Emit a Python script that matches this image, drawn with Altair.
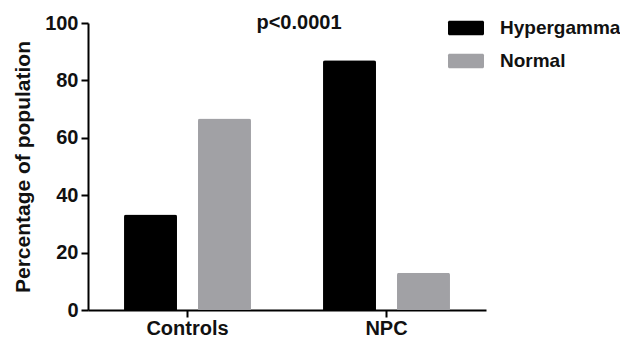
import altair as alt
import pandas as pd

groups = ["Controls", "Controls", "NPC", "NPC"]
series = ["Hypergamma", "Normal", "Hypergamma", "Normal"]
values = [33.3, 66.7, 87.0, 13.0]
series_order = ["Hypergamma", "Normal"]
series_colors = ["#000000", "#a1a1a5"]
y_ticks = [0, 20, 40, 60, 80, 100]
annotation = ["p<0.0001"]

df = pd.DataFrame({"group": groups, "series": series, "value": values})

FONT = "Liberation Sans"
TXT = "#111111"
legend_shape = ("M-1.1,-0.48 H1.1 A0.1,0.1 0 0 1 1.2,-0.38 V0.38 A0.1,0.1 0 0 1 1.1,0.48 "
                "H-1.1 A0.1,0.1 0 0 1 -1.2,0.38 V-0.38 A0.1,0.1 0 0 1 -1.1,-0.48 Z")

bars = alt.Chart(df).mark_bar(cornerRadiusTopLeft=2, cornerRadiusTopRight=2).encode(
    x=alt.X("group:N", sort=["Controls", "NPC"],
            scale=alt.Scale(paddingInner=0.362, paddingOuter=0.181),
            axis=alt.Axis(title=None, labelAngle=0, labelFont=FONT, labelFontSize=20,
                          labelFontWeight="bold", labelColor=TXT, labelPadding=1,
                          tickSize=7, tickWidth=2, tickColor="#000", domainWidth=2,
                          domainColor="#000")),
    xOffset=alt.XOffset("series:N", sort=series_order,
                        scale=alt.Scale(paddingInner=0.284, paddingOuter=0)),
    y=alt.Y("value:Q", scale=alt.Scale(domain=[0, 100], nice=False),
            axis=alt.Axis(title="Percentage of population", values=y_ticks, grid=False,
                          labelFont=FONT, labelFontSize=20, labelFontWeight="bold",
                          labelColor=TXT, labelPadding=3, tickSize=7, tickWidth=2,
                          tickColor="#000", domainWidth=2, domainColor="#000",
                          titleFont=FONT, titleFontSize=21, titleFontWeight="bold",
                          titleColor=TXT, titlePadding=11)),
    color=alt.Color("series:N", sort=series_order,
                    scale=alt.Scale(domain=series_order, range=series_colors),
                    legend=alt.Legend(title=None, orient="none", legendX=363, legendY=-10,
                                      symbolType=legend_shape, symbolSize=900,
                                      symbolStrokeWidth=0, labelOffset=19, rowPadding=8,
                                      labelFont=FONT, labelFontSize=19,
                                      labelFontWeight="bold", labelColor=TXT, padding=0)),
)

note = alt.Chart(pd.DataFrame({"t": annotation})).mark_text(
    font=FONT, fontSize=20, fontWeight="bold", color=TXT, baseline="alphabetic",
    align="center").encode(text="t:N", x=alt.value(211), y=alt.value(6))

chart = alt.layer(bars, note).properties(
    width=398, height=287,
    autosize=alt.AutoSizeParams(type="none"),
    padding={"left": 80, "top": 15, "right": 134, "bottom": 29},
).configure_view(stroke=None)

chart.save("out.html", embed_options={"renderer": "svg", "actions": False})
